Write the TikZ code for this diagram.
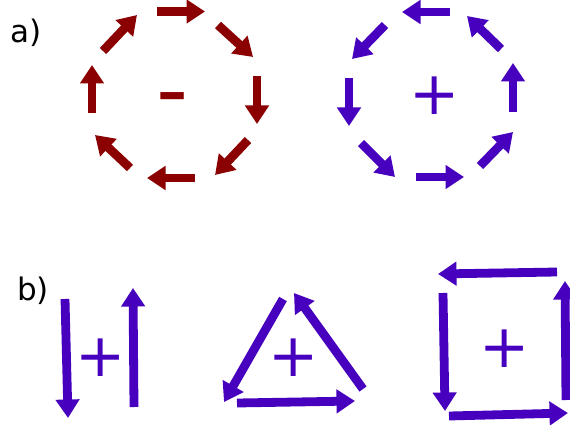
\documentclass[tikz,border=0pt]{standalone}
\usepackage{fontspec}
\setmainfont{DejaVu Sans}
\usetikzlibrary{arrows.meta}
\definecolor{dred}{RGB}{139,0,0}
\definecolor{dblue}{RGB}{70,0,190}
\begin{document}
\begin{tikzpicture}[x=1pt,y=-1pt,
  arr/.style={line width=8.8pt,-{Triangle[width=23pt,length=18.5pt]}},
  rarr/.style={arr,dred},
  barr/.style={arr,dblue},
  sign/.style={inner sep=0pt,font=\fontsize{60}{60}\selectfont},
  lab/.style={inner sep=0pt,anchor=base west,font=\fontsize{31}{31}\selectfont}]
\useasboundingbox[fill=white] (0,0) rectangle (570,425);
\node[lab] (la) at (10,42.5) {a)};
\node[lab] (lb) at (17,300.5) {b)};
% red circle
\draw[rarr] (157,11.5) -- (205,11.5);
\draw[rarr] (218,25) -- (253,57);
\draw[rarr] (257,76) -- (257,124);
\draw[rarr] (248,140) -- (215,175);
\draw[rarr] (195,178) -- (147,178);
\draw[rarr] (130,168) -- (95,135);
\draw[rarr] (92,113) -- (92,65);
\draw[rarr] (103,51) -- (137,15);
\node[inner sep=0pt,anchor=base,text=dred,font=\fontsize{89}{89}\selectfont] (minus) at (172.5,121) {-};
% blue circle
\draw[barr] (450,12) -- (402,12);
\draw[barr] (385,25) -- (352,59);
\draw[barr] (349,78) -- (349,126);
\draw[barr] (361,143) -- (395,177);
\draw[barr] (416,177) -- (464,177);
\draw[barr] (480,166) -- (513,132);
\draw[barr] (513,112) -- (513,63);
\draw[barr] (501,49) -- (467,16);
\node[sign,text=dblue] (p1) at (434.5,95.5) {+};
% b) pair
\draw[barr] (65,299) -- (68,418);
\draw[barr] (134,407) -- (133,288);
\node[sign,text=dblue] (p2) at (101,358) {+};
% triangle
\draw[barr] (283,299) -- (224,402);
\draw[barr] (363,389) -- (294,293);
\draw[barr] (237,403) -- (355,401);
\node[sign,text=dblue] (p3) at (293.5,358) {+};
% square
\draw[barr] (557,272) -- (438,274);
\draw[barr] (443,293) -- (445,411);
\draw[barr] (449,416) -- (568,413);
\draw[barr] (566,400) -- (565,281);
\node[sign,text=dblue] (p4) at (505,349) {+};
\end{tikzpicture}
\end{document}
